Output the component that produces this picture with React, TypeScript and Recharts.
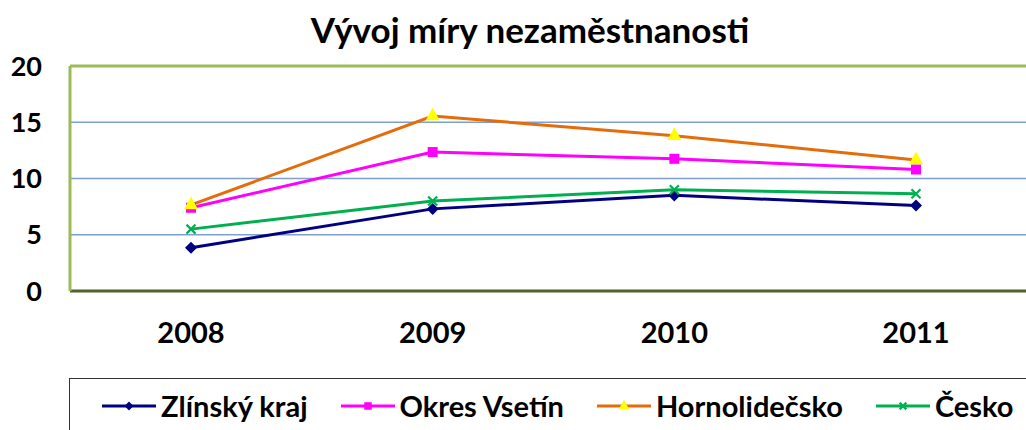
import { LineChart, Line, XAxis, YAxis, CartesianGrid, ReferenceLine } from "recharts";

const years = ["2008", "2009", "2010", "2011"];
const zlinskyKraj = [3.85, 7.3, 8.5, 7.6];
const okresVsetin = [7.4, 12.35, 11.75, 10.8];
const hornolidecsko = [7.65, 15.55, 13.8, 11.65];
const cesko = [5.5, 8.0, 9.0, 8.65];
const yTicks = [0, 5, 10, 15, 20];

const data = years.map((year, i) => ({
  year,
  zlin: zlinskyKraj[i],
  vsetin: okresVsetin[i],
  horno: hornolidecsko[i],
  cesko: cesko[i],
}));

const FONT = "Lato, 'Open Sans', sans-serif";

type MarkerKind = "diamond" | "square" | "triangle" | "cross";

function Marker({ cx, cy, kind, color, s = 1 }: { cx: number; cy: number; kind: MarkerKind; color: string; s?: number }) {
  if (cx == null || cy == null) return null;
  if (kind === "diamond") {
    const r = 6 * s;
    return <polygon points={`${cx},${cy - r} ${cx + r},${cy} ${cx},${cy + r} ${cx - r},${cy}`} fill={color} />;
  }
  if (kind === "square") {
    const r = 5 * s;
    return <rect x={cx - r} y={cy - r} width={2 * r} height={2 * r} fill={color} />;
  }
  if (kind === "triangle") {
    const r = 7 * s;
    return <polygon points={`${cx},${cy - r * 1.2} ${cx + r},${cy + r * 0.6} ${cx - r},${cy + r * 0.6}`} fill="#FFFF00" />;
  }
  const r = 4.5 * s;
  return (
    <g stroke={color} strokeWidth={2.2}>
      <line x1={cx - r} y1={cy - r} x2={cx + r} y2={cy + r} />
      <line x1={cx - r} y1={cy + r} x2={cx + r} y2={cy - r} />
    </g>
  );
}

const series: { key: string; name: string; color: string; kind: MarkerKind }[] = [
  { key: "zlin", name: "Zlínský kraj", color: "#000080", kind: "diamond" },
  { key: "vsetin", name: "Okres Vsetín", color: "#FF00FF", kind: "square" },
  { key: "horno", name: "Hornolidečsko", color: "#E46C0A", kind: "triangle" },
  { key: "cesko", name: "Česko", color: "#00B050", kind: "cross" },
];

export default function App() {
  return (
    <div
      style={{
        position: "absolute",
        left: 0,
        top: 0,
        width: 1026,
        height: 430,
        overflow: "hidden",
        background: "#fff",
        fontFamily: FONT,
      }}
    >
      <div
        style={{
          position: "absolute",
          left: 0,
          width: 1060,
          top: 8,
          textAlign: "center",
          fontSize: 35,
          fontWeight: 700,
          color: "#000",
          lineHeight: "42px",
        }}
      >
        Vývoj míry nezaměstnanosti
      </div>
      <div style={{ position: "absolute", left: 0, top: 0 }}>
        <LineChart width={1037} height={430} data={data} margin={{ top: 66, right: 0, left: 0, bottom: 89 }}>
          <CartesianGrid vertical={false} stroke="#7EA0CF" strokeWidth={1.5} />
          <XAxis
            dataKey="year"
            height={50}
            padding={{ left: 121, right: 121 }}
            tickSize={0}
            tickMargin={31}
            axisLine={{ stroke: "#4F6228", strokeWidth: 3 }}
            tick={{ fill: "#000", fontSize: 29, fontWeight: 700, fontFamily: FONT }}
          />
          <YAxis
            width={70}
            domain={[0, 20]}
            ticks={yTicks}
            interval={0}
            tickSize={0}
            tickMargin={28}
            axisLine={{ stroke: "#9BBB59", strokeWidth: 3 }}
            tick={{ fill: "#000", fontSize: 27, fontWeight: 700, fontFamily: FONT }}
          />
          <ReferenceLine y={20} stroke="#9BBB59" strokeWidth={3} />
          {series.map((s) => (
            <Line
              key={s.key}
              dataKey={s.key}
              name={s.name}
              stroke={s.color}
              strokeWidth={3}
              isAnimationActive={false}
              dot={(p: any) => <Marker key={`${s.key}-${p.index}`} cx={p.cx} cy={p.cy} kind={s.kind} color={s.color} />}
              activeDot={false}
            />
          ))}
        </LineChart>
      </div>
      <div
        style={{
          position: "absolute",
          left: 69,
          top: 378,
          width: 1000,
          height: 80,
          border: "1.5px solid #333",
          boxSizing: "border-box",
        }}
      >
        <div style={{ display: "flex", alignItems: "center", position: "absolute", left: 32, top: 11, gap: 33 }}>
          {series.map((s) => (
            <div key={s.key} style={{ display: "flex", alignItems: "center" }}>
              <svg width={56} height={20} style={{ marginRight: 3 }}>
                <line x1={0} y1={10} x2={54} y2={10} stroke={s.color} strokeWidth={3} />
                <Marker cx={27} cy={10} kind={s.kind} color={s.color} s={0.75} />
              </svg>
              <span style={{ fontSize: 29, fontWeight: 700, color: "#000", lineHeight: "32px" }}>{s.name}</span>
            </div>
          ))}
        </div>
      </div>
    </div>
  );
}
